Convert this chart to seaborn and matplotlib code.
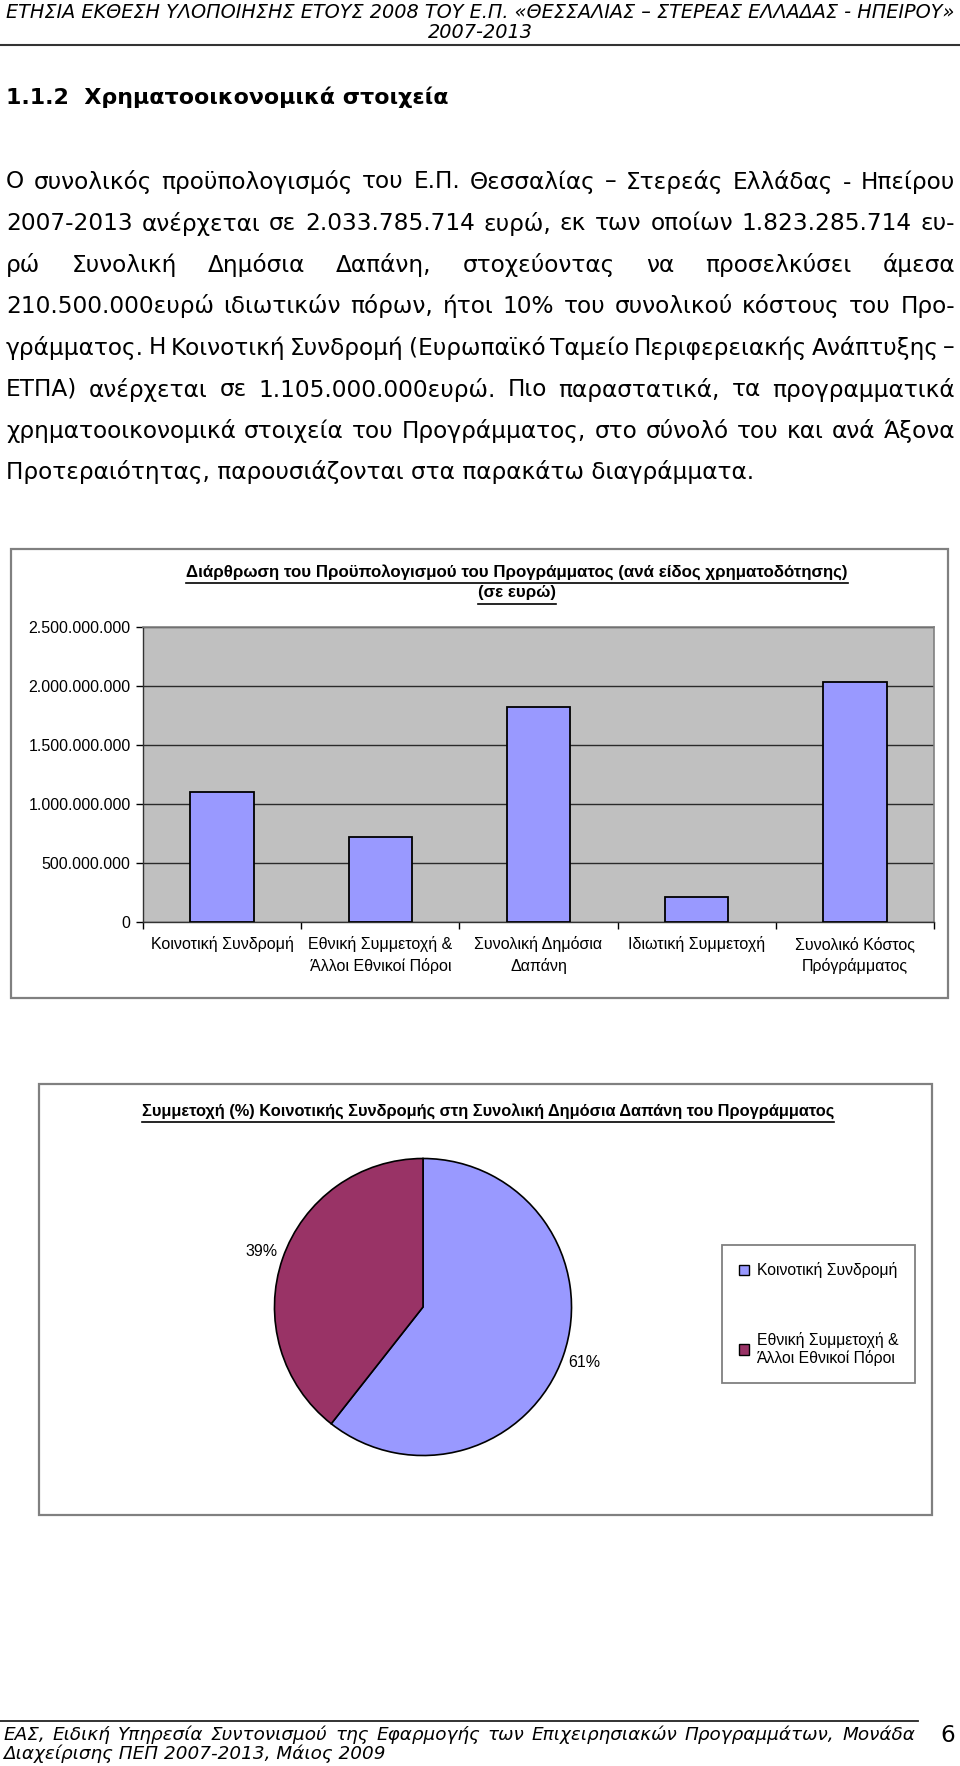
import numpy as np
import matplotlib
matplotlib.use("Agg")
import matplotlib.pyplot as plt
from matplotlib.patches import Rectangle
from matplotlib.lines import Line2D
from matplotlib.ticker import FuncFormatter, FixedLocator
import seaborn as sns

# data
bar_labels = ['Κοινοτική Συνδρομή', 'Εθνική Συμμετοχή &\nΆλλοι Εθνικοί Πόροι',
              'Συνολική Δημόσια\nΔαπάνη', 'Ιδιωτική Συμμετοχή',
              'Συνολικό Κόστος\nΠρόγράμματος']
bar_values = [1105000000, 718285714, 1823285714, 210500000, 2033785714]
y_ticks = [0, 500000000, 1000000000, 1500000000, 2000000000, 2500000000]

pie_labels = ['Κοινοτική Συνδρομή', 'Εθνική Συμμετοχή &\nΆλλοι Εθνικοί Πόροι']
pie_values = [1105000000, 718285714]

header = ['ΕΤΗΣΙΑ ΕΚΘΕΣΗ ΥΛΟΠΟΙΗΣΗΣ ΕΤΟΥΣ 2008 ΤΟΥ Ε.Π. «ΘΕΣΣΑΛΙΑΣ – ΣΤΕΡΕΑΣ ΕΛΛΑΔΑΣ - ΗΠΕΙΡΟΥ»',
          '2007-2013']
heading = '1.1.2  Χρηματοοικονομικά στοιχεία'
body = [
    'Ο συνολικός προϋπολογισμός του Ε.Π. Θεσσαλίας – Στερεάς Ελλάδας - Ηπείρου',
    '2007-2013 ανέρχεται σε 2.033.785.714 ευρώ, εκ των οποίων 1.823.285.714 ευ-',
    'ρώ Συνολική Δημόσια Δαπάνη, στοχεύοντας να προσελκύσει άμεσα',
    '210.500.000ευρώ ιδιωτικών πόρων, ήτοι 10% του συνολικού κόστους του Προ-',
    'γράμματος. Η Κοινοτική Συνδρομή (Ευρωπαϊκό Ταμείο Περιφερειακής Ανάπτυξης –',
    'ΕΤΠΑ) ανέρχεται σε 1.105.000.000ευρώ. Πιο παραστατικά, τα προγραμματικά',
    'χρηματοοικονομικά στοιχεία του Προγράμματος, στο σύνολό του και ανά Άξονα',
    'Προτεραιότητας, παρουσιάζονται στα παρακάτω διαγράμματα.',
]
bar_title = ['Διάρθρωση του Προϋπολογισμού του Προγράμματος (ανά είδος χρηματοδότησης)',
             '(σε ευρώ)']
pie_title = 'Συμμετοχή (%) Κοινοτικής Συνδρομής στη Συνολική Δημόσια Δαπάνη του Προγράμματος'
footer = ['ΕΑΣ, Ειδική Υπηρεσία Συντονισμού της Εφαρμογής των Επιχειρησιακών Προγραμμάτων, Μονάδα',
          'Διαχείρισης ΠΕΠ 2007-2013, Μάιος 2009']
page_no = '6'

BLUE = '#9999FF'
WINE = '#993366'
GRAY_BG = '#C0C0C0'
BORDER = '#808080'
DOC_FONT = ['DejaVu Sans']
CHART_FONT = ['Liberation Sans', 'DejaVu Sans']

W, H = 960, 1766
fig = plt.figure(figsize=(W / 100, H / 100), dpi=100)
fig.patch.set_facecolor('white')
r = fig.canvas.get_renderer()


def fx(x):
    return x / W


def fy(y):
    return 1 - y / H


def fit_text(x, y, s, width, ha='left', **kw):
    t = fig.text(fx(x), fy(y), s, ha=ha, va='center', fontsize=10, **kw)
    w = t.get_window_extent(r).width
    t.set_fontsize(10 * width / w)
    return t


def justify(x0, x1, y, s, size, **kw):
    words = s.split(' ')
    texts = [fig.text(0, fy(y), wd, va='center', fontsize=size, **kw) for wd in words]
    widths = [t.get_window_extent(r).width for t in texts]
    gap = (x1 - x0 - sum(widths)) / max(len(words) - 1, 1)
    x = x0
    for t, w in zip(texts, widths):
        t.set_x(fx(x))
        x += w + gap


def underline(t, off=3, lw=1.2):
    bb = t.get_window_extent(r)
    y = bb.y0 - off
    fig.add_artist(Line2D([bb.x0 / W, bb.x1 / W], [y / H, y / H], color='black', lw=lw,
                          transform=fig.transFigure))


def hline(x0, x1, y, lw=1.5, color='#333333'):
    fig.add_artist(Line2D([fx(x0), fx(x1)], [fy(y), fy(y)], color=color, lw=lw,
                          transform=fig.transFigure))


def box(x0, y0, x1, y1):
    fig.add_artist(Rectangle((fx(x0), fy(y1)), (x1 - x0) / W, (y1 - y0) / H, fill=False,
                             edgecolor=BORDER, lw=1.6, transform=fig.transFigure))


# page header
fit_text(480, 12, header[0], 950, ha='center', family=DOC_FONT, style='italic')
hs = fig.texts[-1].get_fontsize()
fig.text(fx(480), fy(32), header[1], ha='center', va='center', fontsize=hs,
         family=DOC_FONT, style='italic')
hline(0, 960, 45)

fit_text(6, 97, heading, 442, family=DOC_FONT, weight='bold')

# paragraph, justified
probe = fig.text(0, 0, body[0], fontsize=10, family=DOC_FONT)
body_size = 10 * 930 / probe.get_window_extent(r).width
probe.remove()
for i, line in enumerate(body):
    y = 182 + 41.5 * i
    if i < len(body) - 1:
        justify(6, 955, y, line, body_size, family=DOC_FONT)
    else:
        fig.text(fx(6), fy(y), line, va='center', fontsize=body_size, family=DOC_FONT)

# bar chart
box(11, 549, 948, 998)
t1 = fit_text(517, 572, bar_title[0], 660, ha='center', family=CHART_FONT, weight='bold')
underline(t1)
t2 = fig.text(fx(517), fy(593), bar_title[1], ha='center', va='center',
              fontsize=t1.get_fontsize(), family=CHART_FONT, weight='bold')
underline(t2)

ax = fig.add_axes([fx(143), fy(922), (934 - 143) / W, (922 - 627) / H])
ax.set_facecolor(GRAY_BG)
sns.barplot(x=bar_labels, y=bar_values, ax=ax, color=BLUE, saturation=1,
            width=0.4, edgecolor='black', linewidth=1.3, zorder=3)
ax.set_ylim(0, 2500000000)
ax.set_xlim(-0.5, len(bar_labels) - 0.5)
ax.yaxis.set_major_locator(FixedLocator(y_ticks))
ax.yaxis.set_major_formatter(FuncFormatter(lambda v, p: f'{v:,.0f}'.replace(',', '.')))
ax.grid(axis='y', color='#2a2a2a', lw=1.0, zorder=1)
ax.set_axisbelow(True)
for s in ['top', 'right']:
    ax.spines[s].set_color(BORDER)
    ax.spines[s].set_linewidth(1.2)
for s in ['left', 'bottom']:
    ax.spines[s].set_color('#333333')
    ax.spines[s].set_linewidth(1.0)
ax.tick_params(axis='y', length=5, width=1, pad=4, labelsize=11.5)
ax.tick_params(axis='x', which='major', length=0, pad=10, labelsize=11.5)
ax.set_xticks(np.arange(-0.5, len(bar_labels)), minor=True)
ax.tick_params(axis='x', which='minor', length=5, width=1)
for lab in ax.get_xticklabels() + ax.get_yticklabels():
    lab.set_family(CHART_FONT)
    lab.set_linespacing(1.5)
for lab in ax.get_xticklabels():
    lab.set_verticalalignment('top')
ax.set_xlabel('')
ax.set_ylabel('')

# pie chart
box(39, 1084, 932, 1515)
pt = fit_text(488, 1111, pie_title, 689, ha='center', family=CHART_FONT, weight='bold')
underline(pt)

pax = fig.add_axes([fx(273), fy(1457), 300 / W, 300 / H])
wedges, _, autotexts = pax.pie(pie_values, colors=[BLUE, WINE], startangle=90,
                               counterclock=False, autopct='%.0f%%', pctdistance=1.15,
                               wedgeprops=dict(edgecolor='black', linewidth=1.2),
                               textprops=dict(fontsize=11.5, family=CHART_FONT))
pax.set_xlim(-1.01, 1.01)
pax.set_ylim(-1.01, 1.01)
pax.set_aspect('equal')

leg = fig.legend(wedges, pie_labels, loc='upper left',
                 bbox_to_anchor=(fx(722), fy(1245)),
                 frameon=True, fancybox=False, framealpha=1,
                 edgecolor=BORDER, borderpad=1.1, labelspacing=3.4,
                 handlelength=0.65, handleheight=0.65, handletextpad=0.45,
                 borderaxespad=0, prop=dict(family=CHART_FONT, size=11.3))
leg.get_frame().set_linewidth(1.3)
for h in leg.legend_handles:
    h.set_edgecolor('black')
    h.set_linewidth(1)

# footer
fs = hs * 0.95
hline(0, 918, 1721, lw=1.3, color='#222222')
justify(3, 915, 1735, footer[0], fs, family=DOC_FONT, style='italic')
fig.text(fx(3), fy(1754), footer[1], va='center', fontsize=fs, family=DOC_FONT, style='italic')
fig.text(fx(948), fy(1735), page_no, ha='center', va='center', fontsize=hs * 1.2, family=DOC_FONT)

fig.savefig('out.png', dpi=100, facecolor='white')
